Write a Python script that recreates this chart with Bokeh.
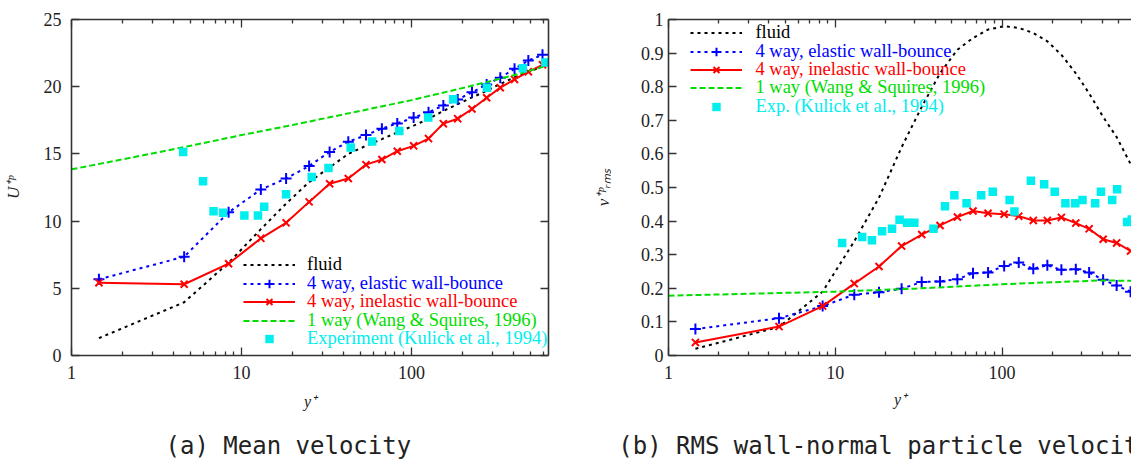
import math
from bokeh.plotting import figure
from bokeh.models import (FixedTicker, LogAxis, LinearAxis, Legend, LegendItem,
                          CustomJSTickFormatter, Range1d)
from bokeh.layouts import row
from bokeh.embed import file_html
from bokeh.resources import INLINE

# ---------------- data ----------------
yplus = [1.45, 4.6, 8.4, 13.0, 18.3, 25.0, 33.0, 42.5, 54.0, 67.0, 82.5, 103.0,
         126.0, 154.0, 187.0, 227.0, 277.0, 333.0, 404.0, 487.0, 590.0]

# (a) mean velocity
U_fluid = [1.29, 3.96, 6.9, 9.4, 11.3, 12.9, 14.0, 15.0, 15.6, 16.1, 16.6, 17.1,
           17.6, 18.2, 18.7, 19.2, 19.7, 20.2, 20.7, 21.1, 21.5]
U_elastic = [5.67, 7.35, 10.65, 12.35, 13.17, 14.1, 15.15, 15.9, 16.4, 16.88, 17.27,
             17.7, 18.1, 18.6, 19.05, 19.58, 20.17, 20.67, 21.33, 21.95, 22.37]
U_inelastic = [5.42, 5.3, 6.83, 8.72, 9.87, 11.43, 12.78, 13.17, 14.2, 14.58, 15.2,
               15.6, 16.14, 17.25, 17.62, 18.34, 19.18, 19.93, 20.54, 21.11, 21.63]
oneway_y_a = [1, 2, 5, 10, 20, 50, 100, 200, 400, 640]
U_oneway = [13.85, 14.6, 15.6, 16.4, 17.15, 18.2, 19.0, 19.9, 20.85, 21.6]
exp_y_a = [4.54, 5.94, 6.85, 7.8, 10.4, 12.5, 13.6, 18.3, 25.9, 32.5, 43.9, 58.7,
           84.8, 125.5, 176, 278, 452, 613]
U_exp = [15.15, 12.97, 10.74, 10.62, 10.42, 10.42, 11.06, 12.0, 13.29, 13.96, 15.47,
         15.92, 16.7, 17.7, 19.06, 19.93, 21.38, 21.8]

# (b) rms wall-normal velocity
v_fluid = [0.02, 0.085, 0.19, 0.34, 0.47, 0.62, 0.74, 0.84, 0.91, 0.945, 0.97, 0.98,
           0.975, 0.96, 0.935, 0.895, 0.84, 0.78, 0.71, 0.65, 0.57]
v_elastic = [0.0785, 0.111, 0.147, 0.181, 0.188, 0.199, 0.2185, 0.2206, 0.227, 0.245,
             0.247, 0.2667, 0.2765, 0.258, 0.2686, 0.255, 0.257, 0.247, 0.2255, 0.208, 0.19]
v_inelastic = [0.039, 0.086, 0.147, 0.214, 0.265, 0.3256, 0.36, 0.387, 0.412, 0.430,
               0.4235, 0.4206, 0.4147, 0.402, 0.402, 0.411, 0.394, 0.377, 0.346, 0.335, 0.311]
oneway_y_b = [1, 10, 30, 100, 200, 400, 640]
v_oneway = [0.178, 0.19, 0.199, 0.212, 0.218, 0.2235, 0.222]
exp_y_b = [11, 14.5, 16.6, 19.1, 21.9, 24.3, 27, 29.8, 38.8, 45.5, 51.8, 61.3, 75, 88,
           111, 118.7, 149, 179, 207, 240, 275, 304, 362, 392, 458, 490, 563, 600]
v_exp = [0.335, 0.353, 0.343, 0.37, 0.377, 0.404, 0.395, 0.395, 0.377, 0.444, 0.477,
         0.453, 0.477, 0.487, 0.463, 0.4285, 0.52, 0.51, 0.487, 0.453, 0.453, 0.463,
         0.453, 0.487, 0.463, 0.495, 0.397, 0.405]

x_major = [1, 10, 100]
x_minor = [m * d for d in (1, 10, 100) for m in range(2, 10)]
ya_ticks = [0, 5, 10, 15, 20, 25]
yb_ticks = [0, 0.1, 0.2, 0.3, 0.4, 0.5, 0.6, 0.7, 0.8, 0.9, 1.0]

labels_a = ["fluid", "4 way, elastic wall-bounce", "4 way, inelastic wall-bounce",
            "1 way (Wang & Squires, 1996)", "Experiment (Kulick et al., 1994)"]
labels_b = ["fluid", "4 way, elastic wall-bounce", "4 way, inelastic wall-bounce",
            "1 way (Wang & Squires, 1996)", "Exp. (Kulick et al., 1994)"]
caption_a = "(a) Mean velocity"
caption_b = "(b) RMS wall-normal particle velocity"

# ---------------- style ----------------
SERIF = "Liberation Serif"
C_FLUID, C_EL, C_IN, C_ONE, C_EXP = "#000000", "#0000ff", "#ff0000", "#00dd00", "#00eeee"
AX = "#333333"
NBSP = "\u00a0"

num_fmt = CustomJSTickFormatter(code="return (Math.round(tick*10)/10).toString();")
blank_fmt = CustomJSTickFormatter(code="return '';")


def style_axis(ax, ticks, minor=None, labels=True, standoff=10):
    ax.ticker = FixedTicker(ticks=ticks, minor_ticks=minor or [])
    ax.axis_line_color = AX
    ax.axis_line_width = 1.6
    ax.major_tick_line_color = AX
    ax.minor_tick_line_color = AX
    ax.major_tick_line_width = 1.3
    ax.minor_tick_line_width = 1.3
    ax.major_tick_in = 8
    ax.major_tick_out = 0
    ax.minor_tick_in = 4 if minor else 0
    ax.minor_tick_out = 0
    ax.major_label_text_font = SERIF
    ax.major_label_text_font_size = "18px"
    ax.major_label_text_color = "#222222"
    ax.major_label_standoff = standoff
    ax.axis_label_text_font = SERIF
    ax.axis_label_text_font_style = "italic"
    ax.axis_label_text_color = "#222222"
    if labels:
        ax.formatter = num_fmt
    else:
        ax.formatter = blank_fmt
        ax.major_label_standoff = 0
        ax.major_label_text_font_size = "1px"


def make_legends(p, renderers, labels, x0, ys, standoff):
    colors = [C_FLUID, C_EL, C_IN, C_ONE, C_EXP]
    for rs, lab, col, y in zip(renderers, labels, colors, ys):
        lg = Legend(items=[LegendItem(label=lab, renderers=rs)], location=(x0, y),
                    orientation="vertical", margin=0, padding=0, spacing=0,
                    glyph_width=52, glyph_height=21, label_height=21,
                    label_standoff=standoff, border_line_color=None,
                    background_fill_alpha=0, label_text_font=SERIF,
                    label_text_font_size="18.5px", label_text_color=col)
        p.add_layout(lg)


def add_series(p, fy, fv, ey, ev, iv, oy, ov, xy, xv):
    r1 = p.line(fy, fv, line_color=C_FLUID, line_width=2, line_dash="3 4")
    r2 = p.line(ey, ev, line_color=C_EL, line_width=2, line_dash="3 4")
    r2m = p.scatter(ey, ev, marker="cross", size=11, line_color=C_EL, line_width=2)
    r3 = p.line(ey, iv, line_color=C_IN, line_width=2)
    r3m = p.scatter(ey, iv, marker="x", size=10, line_color=C_IN, line_width=2)
    r4 = p.line(oy, ov, line_color=C_ONE, line_width=2, line_dash="6 3")
    r5 = p.scatter(xy, xv, marker="square", size=8.5, fill_color=C_EXP, line_color=None)
    return [[r1], [r2, r2m], [r3, r3m], [r4], [r5]]


def caption_axis(text, standoff):
    # invisible axis whose (centred) label is the panel caption
    return LogAxis(axis_label=text, ticker=FixedTicker(ticks=[]),
                   formatter=blank_fmt, axis_line_color=None,
                   major_tick_line_color=None, minor_tick_line_color=None,
                   major_tick_in=0, major_tick_out=0, minor_tick_in=0, minor_tick_out=0,
                   major_label_standoff=0, major_label_text_font_size="1px",
                   axis_label_standoff=standoff, axis_label_text_font="DejaVu Sans Mono",
                   axis_label_text_font_size="24px", axis_label_text_font_style="normal",
                   axis_label_text_color="#222222")


# ---------------- panel (a) ----------------
p1 = figure(width=590, height=462, x_axis_type="log",
            x_range=Range1d(1, 640), y_range=Range1d(0, 25),
            output_backend="svg", toolbar_location=None,
            min_border_left=71, min_border_right=42, min_border_top=19,
            min_border_bottom=106, x_axis_label="y⁺", y_axis_label="U⁺ᵖ")
p1.grid.visible = False
p1.outline_line_color = None

style_axis(p1.xaxis[0], x_major, x_minor)
style_axis(p1.yaxis[0], ya_ticks)
p1.xaxis[0].axis_label_text_font_size = "16px"
p1.xaxis[0].axis_label_standoff = 11
p1.yaxis[0].axis_label_text_font_size = "17px"
p1.yaxis[0].axis_label_standoff = 18
top1 = LogAxis()
style_axis(top1, x_major, x_minor, labels=False)
p1.add_layout(top1, "above")
right1 = LinearAxis()
style_axis(right1, ya_ticks, labels=False)
p1.add_layout(right1, "right")

rs_a = add_series(p1, yplus, U_fluid, yplus, U_elastic, U_inelastic,
                  oneway_y_a, U_oneway, exp_y_a, U_exp)
make_legends(p1, rs_a, labels_a, 172, [79.8, 61.2, 42.8, 24.5, 6.2], 12)
p1.add_layout(caption_axis(caption_a + NBSP * 3, 19), "below")

# ---------------- panel (b) ----------------
p2 = figure(width=541, height=462, x_axis_type="log",
            x_range=Range1d(1, 597.7), y_range=Range1d(0, 1),
            output_backend="svg", toolbar_location=None,
            min_border_left=74, min_border_right=0, min_border_top=15,
            min_border_bottom=107, x_axis_label="y⁺", y_axis_label="v⁺ᵖᵣₘₛ")
p2.grid.visible = False
p2.outline_line_color = None

style_axis(p2.xaxis[0], x_major, x_minor)
style_axis(p2.yaxis[0], yb_ticks, standoff=5)
p2.xaxis[0].axis_label_text_font_size = "16px"
p2.xaxis[0].axis_label_standoff = 9
p2.yaxis[0].axis_label_text_font_size = "17px"
p2.yaxis[0].axis_label_standoff = 25
top2 = LogAxis()
style_axis(top2, x_major, x_minor, labels=False)
p2.add_layout(top2, "above")

rs_b = add_series(p2, yplus, v_fluid, yplus, v_elastic, v_inelastic,
                  oneway_y_b, v_oneway, exp_y_b, v_exp)
make_legends(p2, rs_b, labels_b, 22.4, [311.8, 293.5, 275.5, 256.8, 237.8], 13)
p2.add_layout(caption_axis(caption_b + NBSP * 2, 21), "below")

layout = row(p1, p2)
open("out.html", "w").write(file_html(layout, INLINE))
